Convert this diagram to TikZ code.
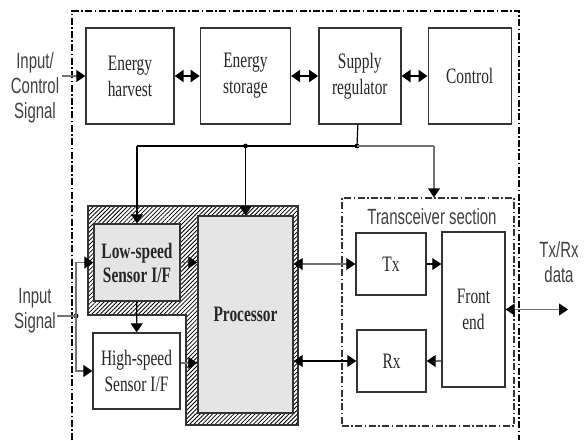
\documentclass[tikz,border=0pt]{standalone}
\usepackage{fontspec}
\setmainfont{Liberation Serif}[FakeStretch=0.7]
\newfontfamily\narrowsans{Liberation Sans}[FakeStretch=0.68]
\usepackage{tikz}
\usetikzlibrary{shapes, arrows.meta, positioning, calc, patterns.meta}
\tikzstyle{bloque} = [draw=black!80, line width=0.7pt, rectangle, inner sep=0pt, align=center, font=\fontsize{11}{13}\selectfont, text=black!85]
\tikzstyle{gris} = [bloque, fill=black!10]
\tikzstyle{rotulo} = [align=center, font=\narrowsans\fontsize{11}{12.5}\selectfont, text=black!75]
\tikzstyle{flecha} = [line width=0.6pt, -{Triangle[length=4.5pt,width=6pt,color=black]}]
\tikzstyle{doble} = [line width=1pt, {Triangle[length=4.5pt,width=6pt,color=black]}-{Triangle[length=4.5pt,width=6pt,color=black]}]
\tikzstyle{punto} = [circle, fill=black, inner sep=0pt, minimum size=2.4pt]
\tikzstyle{rayado} = [pattern={Lines[angle=45,distance=1.5pt,line width=0.4pt]}, draw=black!80, line width=0.7pt]
\tikzstyle{marco} = [line width=0.6pt, dash pattern=on 3.5pt off 1.2pt on 0.8pt off 1.2pt]

\begin{document}
\begin{tikzpicture}[x=0.5pt, y=-0.5pt]
	\useasboundingbox (0,0) rectangle (584,440);
	% marco exterior
	\draw[marco] (72,440) -- (72,11) -- (519,11) -- (519,440);

	% fila de energia
	\node[bloque, minimum width=44pt, minimum height=48pt] (harvest) at (130,76) {Energy\\harvest};
	\node[bloque, minimum width=45pt, minimum height=48pt, right=12.5pt of harvest] (storage) {Energy\\storage};
	\node[bloque, minimum width=41pt, minimum height=48pt, right=13.5pt of storage] (regulator) {Supply\\regulator};
	\node[bloque, minimum width=41.5pt, minimum height=48pt, right=13pt of regulator] (control) {Control};

	% zona rayada
	\draw[rayado] (88,206) -- (298,206) -- (298,425) -- (186,425) -- (186,315) -- (88,315) -- cycle;
	\node[gris, font=\fontsize{11}{12}\selectfont\bfseries, minimum width=43pt, minimum height=38.5pt] (lowspeed) at (137,262.5) {Low-speed\\Sensor I/F};
	\node[gris, font=\fontsize{11}{12}\selectfont\bfseries, minimum width=47.5pt, minimum height=98.5pt] (processor) at (245.5,314.5) {Processor};
	\node[bloque, fill=white, minimum width=43.5pt, minimum height=38pt] (highspeed) at (136.5,371) {High-speed\\Sensor I/F};

	% transceptor
	\node[marco, draw=black!80, minimum width=86pt, minimum height=114pt] (trx) at (428,312) {};
	\node[rotulo] (trxlabel) at (432,217) {Transceiver section};
	\node[bloque, minimum width=35pt, minimum height=31pt] (tx) at (391,264) {Tx};
	\node[bloque, minimum width=34.5pt, minimum height=31pt] (rx) at (391.5,361) {Rx};
	\node[bloque, minimum width=31.5pt, minimum height=77.5pt] (front) at (473.5,309.5) {Front\\end};

	% rotulos
	\node[rotulo] (inctrl) at (35,88) {Input/\\Control\\Signal};
	\node[rotulo] (insignal) at (35,311) {Input\\Signal};
	\node[rotulo] (txrxdata) at (559,262) {Tx/Rx\\data};

	\coordinate (ctrlin) at (62,76);
	\coordinate (sigin) at (57,316);
	\coordinate (busL) at (137,146);
	\coordinate (busR) at (434,146);
	\coordinate (txrxout) at (568,309.5);
	\node[punto] (jin) at (76,316) {};
	\node[punto] (j1) at (245.5,146) {};
	\node[punto] (j2) at (357,146) {};

	% conexiones
	\draw[flecha, black!55] (ctrlin) -- (harvest);
	\draw[doble] (harvest) -- (storage);
	\draw[doble] (storage) -- (regulator);
	\draw[doble] (regulator) -- (control);
	\draw[line width=0.6pt] (regulator) -- (j2.center);
	\draw[line width=0.6pt] (busL) -- (j2.center);
	\draw[line width=0.6pt, black!55] (j2.center) -- (busR);
	\draw[flecha, black!55] (busR) -- (busR |- trx.north);
	\draw[flecha] (busL) -- (lowspeed);
	\draw[flecha] (j1.center) -- (processor);
	\draw[flecha] (lowspeed) -- (highspeed);
	\draw[flecha, black!55] (lowspeed) -- (lowspeed -| processor.west);
	\draw[flecha, black!55] ($(highspeed.east)+(0,-8)$) -- ($(highspeed.east -| processor.west)+(0,-8)$);
	\draw[line width=0.6pt, black!55] (sigin) -- (jin.center);
	\draw[flecha, black!55] (jin.center) |- (lowspeed.west);
	\draw[flecha, black!55] (jin.center) |- (highspeed.west);
	\draw[doble, black!55, line width=0.6pt] (tx.west -| processor.east) -- (tx.west);
	\draw[doble, line width=0.6pt] (rx.west -| processor.east) -- (rx.west);
	\draw[flecha] (tx) -- (tx -| front.west);
	\draw[flecha, black!55] (rx -| front.west) -- (rx);
	\draw[doble, black!55, line width=0.6pt] (front) -- (txrxout);
\end{tikzpicture}
\end{document}
